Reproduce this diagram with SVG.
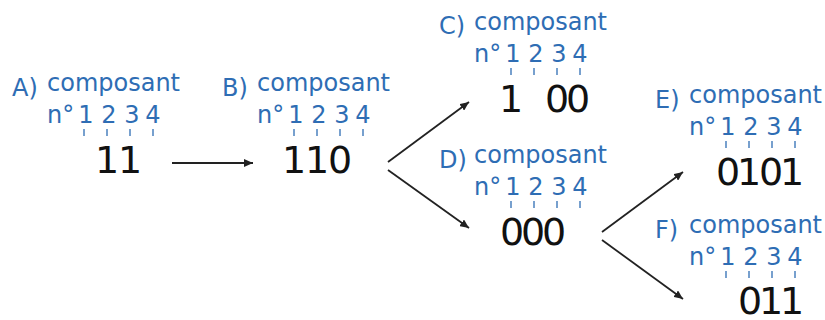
<svg xmlns="http://www.w3.org/2000/svg" width="825" height="320" viewBox="0 0 825 320">
<style>
.lbl{font-family:"DejaVu Sans",sans-serif;font-size:24px;fill:#2e6db4}
.num{font-family:"DejaVu Sans",sans-serif;font-size:24px;fill:#2e6db4;text-anchor:middle}
.big{font-family:"DejaVu Sans",sans-serif;font-size:38px;fill:#111;text-anchor:middle}
.tk{stroke:#2e6db4;stroke-width:1.3}
.ar{stroke:#222;stroke-width:1.8;fill:none;marker-end:url(#ah)}
</style>
<defs>
<marker id="ah" markerUnits="userSpaceOnUse" markerWidth="10" markerHeight="8" refX="9" refY="4" orient="auto">
<path d="M0,0 L9,4 L0,8 z" fill="#222"/>
</marker>
<g id="hdr">
<text class="lbl" x="47" y="91">composant</text>
<text class="lbl" x="47" y="123">n°</text>
<text class="num" y="123"><tspan x="86">1</tspan><tspan x="109">2</tspan><tspan x="132">3</tspan><tspan x="153">4</tspan></text>
<line class="tk" x1="84" y1="129" x2="84" y2="136"/>
<line class="tk" x1="107" y1="129" x2="107" y2="136"/>
<line class="tk" x1="130" y1="129" x2="130" y2="136"/>
<line class="tk" x1="153" y1="129" x2="153" y2="136"/>
</g>
</defs>
<g id="nodeA">
<text class="lbl" x="12" y="96">A)</text>
<use href="#hdr"/>
<text class="big" y="173"><tspan x="107">1</tspan><tspan x="130">1</tspan></text>
</g>
<g id="nodeB" transform="translate(210,0)">
<text class="lbl" x="12" y="96">B)</text>
<use href="#hdr"/>
<text class="big" y="173"><tspan x="84">1</tspan><tspan x="107">1</tspan><tspan x="130">0</tspan></text>
</g>
<g id="nodeC" transform="translate(427,-61)">
<text class="lbl" x="12" y="95">C)</text>
<use href="#hdr"/>
<text class="big" y="173"><tspan x="84">1</tspan><tspan x="130">0</tspan><tspan x="151">0</tspan></text>
</g>
<g id="nodeD" transform="translate(427,72)">
<text class="lbl" x="12" y="96">D)</text>
<use href="#hdr"/>
<text class="big" y="173"><tspan x="85">0</tspan><tspan x="106">0</tspan><tspan x="127">0</tspan></text>
</g>
<g id="nodeE" transform="translate(642,12)">
<text class="lbl" x="13" y="96">E)</text>
<use href="#hdr"/>
<text class="big" y="173"><tspan x="86">0</tspan><tspan x="107">1</tspan><tspan x="129">0</tspan><tspan x="150">1</tspan></text>
</g>
<g id="nodeF" transform="translate(642,142)">
<text class="lbl" x="13" y="96">F)</text>
<use href="#hdr"/>
<text class="big" y="172"><tspan x="108">0</tspan><tspan x="129">1</tspan><tspan x="150">1</tspan></text>
</g>
<g id="connectors">
<line class="ar" x1="172" y1="163" x2="253" y2="163"/>
<line class="ar" x1="388" y1="162" x2="469" y2="102"/>
<line class="ar" x1="388" y1="170" x2="469" y2="228"/>
<line class="ar" x1="602" y1="232" x2="683" y2="172"/>
<line class="ar" x1="602" y1="240" x2="683" y2="299"/>
</g>
</svg>
